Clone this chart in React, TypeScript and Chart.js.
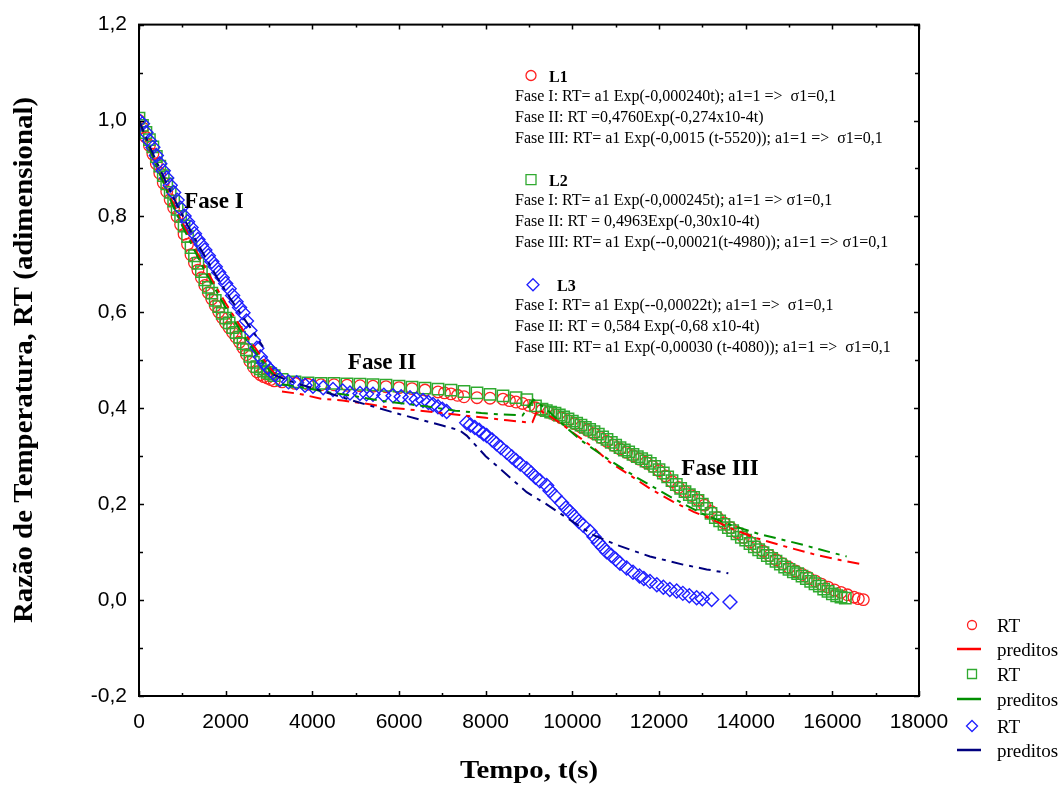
import React, { useEffect, useRef } from "react";
import { Chart, registerables } from "chart.js";
Chart.register(...registerables);

const SERIF = '"Liberation Serif", "Times New Roman", Times, serif';
const SANS = '"Liberation Sans", Arial, Helvetica, sans-serif';

// ---------- axis ticks ----------
const xTicks = [0, 2000, 4000, 6000, 8000, 10000, 12000, 14000, 16000, 18000];
const xTickLabels = ["0", "2000", "4000", "6000", "8000", "10000", "12000", "14000", "16000", "18000"];
const yTicks = [-0.2, 0, 0.2, 0.4, 0.6, 0.8, 1.0, 1.2];
const yTickLabels = ["-0,2", "0,0", "0,2", "0,4", "0,6", "0,8", "1,0", "1,2"];
const xMinorTicks = [0, 1000, 2000, 3000, 4000, 5000, 6000, 7000, 8000, 9000, 10000, 11000, 12000, 13000, 14000, 15000, 16000, 17000, 18000];
const yMinorTicks = [-0.2, -0.1, 0, 0.1, 0.2, 0.3, 0.4, 0.5, 0.6, 0.7, 0.8, 0.9, 1.0, 1.1, 1.2];

// ---------- L1 measured (red circles) ----------
const l1T = [0, 80, 160, 240, 320, 400, 480, 560, 640, 720, 800, 880, 960, 1040, 1120, 1200, 1280, 1360, 1440, 1520, 1600, 1680, 1760, 1840, 1920, 2000, 2080, 2160, 2240, 2320, 2400, 2480, 2560, 2640, 2720, 2800, 2880, 2960, 3040, 3120,
  3300, 3600, 3900, 4200, 4500, 4800, 5100, 5400, 5700, 6000, 6300, 6600, 6900, 7050, 7200, 7350, 7500, 7800, 8100, 8400, 8550, 8700, 8850, 9000, 9150, 9300,
  9450, 9600, 9750, 9900, 10050, 10200, 10350, 10500, 10650, 10800, 10950, 11100, 11250, 11400, 11550, 11700, 11850, 12000, 12150, 12300, 12450, 12600, 12750, 12900,
  13050, 13200, 13350, 13500, 13650, 13800, 13950, 14100, 14250, 14400, 14550, 14700, 14850, 15000, 15150, 15300, 15450, 15600, 15750, 15900, 16050, 16200, 16350, 16500, 16600, 16715];
const l1RT = [1.0, 0.985, 0.965, 0.948, 0.93, 0.91, 0.89, 0.87, 0.852, 0.835, 0.818, 0.80, 0.783, 0.763, 0.742, 0.72, 0.703, 0.688, 0.672, 0.656, 0.641, 0.628, 0.614, 0.601, 0.589, 0.578, 0.568, 0.558, 0.548, 0.538, 0.526, 0.512, 0.498, 0.486, 0.476, 0.47, 0.466, 0.463, 0.46, 0.457,
  0.455, 0.452, 0.450, 0.449, 0.449, 0.448, 0.447, 0.446, 0.445, 0.443, 0.441, 0.438, 0.434, 0.432, 0.430, 0.427, 0.424, 0.422, 0.421, 0.419, 0.416, 0.413, 0.410, 0.406, 0.401, 0.396,
  0.392, 0.386, 0.380, 0.374, 0.368, 0.361, 0.354, 0.347, 0.339, 0.331, 0.323, 0.315, 0.308, 0.301, 0.294, 0.287, 0.279, 0.270, 0.259, 0.247, 0.235, 0.226, 0.218, 0.209,
  0.198, 0.185, 0.172, 0.161, 0.151, 0.141, 0.131, 0.121, 0.111, 0.102, 0.093, 0.084, 0.076, 0.068, 0.061, 0.054, 0.047, 0.040, 0.033, 0.027, 0.021, 0.016, 0.011, 0.006, 0.003, 0.001];

// ---------- L2 measured (green squares) ----------
const l2T = [0, 80, 160, 240, 320, 400, 480, 560, 640, 720, 800, 880, 960, 1040, 1120, 1200, 1280, 1360, 1440, 1520, 1600, 1680, 1760, 1840, 1920, 2000, 2080, 2160, 2240, 2320, 2400, 2480, 2560, 2640, 2720, 2800, 2880, 2960, 3040, 3120,
  3300, 3600, 3900, 4200, 4500, 4800, 5100, 5400, 5700, 6000, 6300, 6600, 6900, 7200, 7500, 7800, 8100, 8400, 8700, 8950, 9150, 9300, 9400,
  9500, 9600, 9700, 9800, 9900, 10000, 10100, 10200, 10300, 10400, 10500, 10600, 10700, 10800, 10900, 11000, 11100, 11200, 11300, 11400, 11500, 11600, 11700, 11800, 11900,
  12000, 12100, 12200, 12300, 12400, 12500, 12600, 12700, 12800, 12900, 13000, 13100, 13200, 13300, 13400, 13500, 13600, 13700, 13800, 13900,
  14000, 14100, 14200, 14300, 14400, 14500, 14600, 14700, 14800, 14900, 15000, 15100, 15200, 15300, 15400, 15500, 15600, 15700, 15800, 15900, 16000, 16100, 16200, 16300];
const l2RT = [1.005, 0.99, 0.975, 0.96, 0.945, 0.925, 0.905, 0.885, 0.868, 0.85, 0.832, 0.815, 0.80, 0.78, 0.758, 0.735, 0.718, 0.702, 0.685, 0.668, 0.652, 0.64, 0.625, 0.612, 0.598, 0.588, 0.578, 0.568, 0.558, 0.548, 0.535, 0.522, 0.508, 0.496, 0.487, 0.482, 0.478, 0.475, 0.472, 0.468,
  0.46, 0.455, 0.453, 0.452, 0.452, 0.451, 0.450, 0.449, 0.448, 0.446, 0.444, 0.442, 0.440, 0.438, 0.435, 0.432, 0.429, 0.426, 0.422, 0.418, 0.405, 0.398, 0.395,
  0.392, 0.390, 0.386, 0.382, 0.378, 0.373, 0.369, 0.365, 0.360, 0.356, 0.351, 0.346, 0.340, 0.335, 0.329, 0.323, 0.318, 0.313, 0.309, 0.304, 0.299, 0.295, 0.290, 0.285, 0.279,
  0.272, 0.265, 0.257, 0.249, 0.241, 0.233, 0.226, 0.220, 0.214, 0.208, 0.200, 0.191, 0.181, 0.172, 0.165, 0.158, 0.151, 0.145, 0.138, 0.131,
  0.125, 0.118, 0.111, 0.105, 0.099, 0.093, 0.087, 0.081, 0.075, 0.069, 0.064, 0.059, 0.055, 0.050, 0.045, 0.039, 0.034, 0.029, 0.023, 0.018, 0.013, 0.009, 0.006, 0.004];

// ---------- L3 measured (blue diamonds) ----------
const l3T = [0, 80, 160, 240, 320, 400, 480, 560, 640, 720, 800, 880, 960, 1040, 1120, 1200, 1280, 1360, 1440, 1520, 1600, 1680, 1760, 1840, 1920, 2000, 2080, 2160, 2240, 2320, 2400, 2480, 2560, 2640, 2720, 2800, 2880, 2960, 3040,
  3140, 3254, 3450, 3638, 3831, 4015, 4250, 4477, 4700, 4869, 5100, 5250, 5400, 5650, 5862, 6050, 6254, 6400, 6554, 6680, 6785, 6900, 7000, 7100,
  7562, 7650, 7750, 7850, 7950, 8023, 8150, 8250, 8350, 8485, 8600, 8700, 8800, 8946, 9050, 9150, 9250, 9408, 9485, 9600, 9750, 9850, 9946, 10050, 10150, 10250,
  10408, 10500, 10600, 10700, 10792, 10900, 11000, 11100, 11254, 11400, 11550, 11650, 11792, 11950, 12100, 12250, 12408, 12550, 12700, 12869, 13000, 13215, 13638];
const l3RT = [1.0, 0.993, 0.975, 0.958, 0.944, 0.927, 0.91, 0.895, 0.88, 0.865, 0.85, 0.834, 0.817, 0.801, 0.789, 0.777, 0.764, 0.752, 0.741, 0.73, 0.718, 0.706, 0.695, 0.683, 0.672, 0.660, 0.649, 0.635, 0.622, 0.610, 0.599, 0.582, 0.562, 0.542, 0.525, 0.507, 0.495, 0.486, 0.479,
  0.47, 0.46, 0.455, 0.453, 0.448, 0.446, 0.443, 0.439, 0.436, 0.432, 0.431, 0.430, 0.429, 0.427, 0.426, 0.424, 0.422, 0.419, 0.416, 0.412, 0.408, 0.403, 0.398, 0.393,
  0.370, 0.365, 0.360, 0.354, 0.347, 0.343, 0.334, 0.326, 0.318, 0.308, 0.299, 0.291, 0.284, 0.274, 0.265, 0.256, 0.249, 0.239, 0.228, 0.217, 0.203, 0.192, 0.184, 0.174, 0.164, 0.156,
  0.143, 0.132, 0.120, 0.110, 0.101, 0.093, 0.085, 0.077, 0.067, 0.058, 0.050, 0.045, 0.039, 0.032, 0.027, 0.022, 0.019, 0.014, 0.009, 0.005, 0.003, 0.001, -0.004];

// ---------- predicted curves ----------
const p1T = [0, 250, 500, 750, 1000, 1250, 1500, 1750, 2000, 2250, 2500, 2750, 3000, 3150, 3200,
  3300, 3700, 4200, 4700, 5200, 5800, 6400, 6900, 7400, 8000, 8500, 9000, 9080, 9200, 9400, 9716, 10000, 10500, 10869, 11300, 11800, 12331, 12800, 13177, 13700, 14254, 14900, 15638, 16200, 16715];
const p1RT = [1.0, 0.94, 0.885, 0.835, 0.787, 0.74, 0.698, 0.657, 0.619, 0.583, 0.549, 0.517, 0.487, 0.47, null,
  0.435, 0.43, 0.42, 0.416, 0.41, 0.401, 0.396, 0.391, 0.386, 0.38, 0.375, 0.37, 0.371, 0.398, 0.388, 0.37, 0.35, 0.317, 0.287, 0.262, 0.232, 0.205, 0.184, 0.170, 0.148, 0.129, 0.112, 0.094, 0.083, 0.074];

const p2T = [0, 250, 500, 750, 1000, 1250, 1500, 1750, 2000, 2250, 2500, 2750, 3000, 3100, 3200,
  3300, 3800, 4400, 5000, 5550, 6100, 6700, 7300, 7900, 8400, 8850, 9100, 9300, 9485, 9785, 10200, 10869, 11500, 12331, 13000, 13638, 14300, 14800, 15331, 15900, 16331];
const p2RT = [1.0, 0.94, 0.885, 0.83, 0.78, 0.735, 0.69, 0.65, 0.61, 0.575, 0.54, 0.51, 0.48, 0.47, null,
  0.45, 0.443, 0.433, 0.425, 0.416, 0.41, 0.403, 0.395, 0.39, 0.387, 0.385, 0.418, 0.405, 0.391, 0.366, 0.333, 0.291, 0.255, 0.212, 0.180, 0.157, 0.138, 0.127, 0.115, 0.101, 0.091];

const p3T = [0, 300, 600, 900, 1200, 1500, 1800, 2100, 2400, 2650, 2862, 2950,
  3100, 3500, 4000, 4500, 5000, 5500, 6000, 6500, 7000, 7400, 7562, 8000, 8331, 8946, 9400, 9716, 10100, 10477, 11023, 11400, 11792, 12200, 12554, 13100, 13600];
const p3RT = [1.0, 0.935, 0.876, 0.82, 0.768, 0.72, 0.673, 0.63, 0.59, 0.558, 0.528, null,
  0.470, 0.456, 0.442, 0.428, 0.414, 0.401, 0.388, 0.376, 0.364, 0.354, 0.343, 0.30, 0.274, 0.225, 0.20, 0.181, 0.158, 0.136, 0.115, 0.103, 0.091, 0.082, 0.074, 0.064, 0.056];

// ---------- text ----------
const legendLabels = ["RT", "preditos", "RT", "preditos", "RT", "preditos"];
const seriesNames = ["L1", "L2", "L3"];
const eqL1 = ["Fase I: RT= a1 Exp(-0,000240t); a1=1 =>  \u03c31=0,1", "Fase II: RT =0,4760Exp(-0,274x10-4t)", "Fase III: RT= a1 Exp(-0,0015 (t-5520)); a1=1 =>  \u03c31=0,1"];
const eqL2 = ["Fase I: RT= a1 Exp(-0,000245t); a1=1 => \u03c31=0,1", "Fase II: RT = 0,4963Exp(-0,30x10-4t)", "Fase III: RT= a1 Exp(--0,00021(t-4980)); a1=1 => \u03c31=0,1"];
const eqL3 = ["Fase I: RT= a1 Exp(--0,00022t); a1=1 =>  \u03c31=0,1", "Fase II: RT = 0,584 Exp(-0,68 x10-4t)", "Fase III: RT= a1 Exp(-0,00030 (t-4080)); a1=1 =>  \u03c31=0,1"];
const phaseLabels = ["Fase I", "Fase II", "Fase III"];
const phaseT = [1731, 5608, 13408];
const phaseRT = [0.829, 0.494, 0.273];
const xTitle = "Tempo, t(s)";
const yTitle = "Raz\u00e3o de Temperatura, RT (adimensional)";

const RED = "#ff2020";
const GREEN_M = "#30aa30";
const BLUE_M = "#1f1fff";
const RED_L = "#ff0000";
const GREEN_L = "#008f00";
const NAVY_L = "#00007f";

function pts(t: number[], v: (number | null)[]) {
  return t.map((x, i) => ({ x, y: v[i] }));
}

function drawSym(ctx: CanvasRenderingContext2D, kind: string, x: number, y: number, s: number, color: string) {
  ctx.save();
  ctx.strokeStyle = color;
  ctx.lineWidth = 1.3;
  ctx.beginPath();
  if (kind === "circle") ctx.arc(x, y, s, 0, Math.PI * 2);
  else if (kind === "square") ctx.rect(x - s, y - s, 2 * s, 2 * s);
  else {
    ctx.moveTo(x, y - s);
    ctx.lineTo(x + s, y);
    ctx.lineTo(x, y + s);
    ctx.lineTo(x - s, y);
    ctx.closePath();
  }
  ctx.stroke();
  ctx.restore();
}

function stretchText(ctx: CanvasRenderingContext2D, text: string, cx: number, cy: number, font: string, targetW: number, rot: number) {
  ctx.save();
  ctx.font = font;
  const w = ctx.measureText(text).width;
  ctx.translate(cx, cy);
  ctx.rotate(rot);
  ctx.scale(targetW / w, 1);
  ctx.textAlign = "center";
  ctx.textBaseline = "middle";
  ctx.fillStyle = "#000";
  ctx.fillText(text, 0, 0);
  ctx.restore();
}

export default function App() {
  const ref = useRef<HTMLCanvasElement>(null);
  useEffect(() => {
    const overlay = {
      id: "overlay",
      afterDraw(chart: any) {
        const ctx: CanvasRenderingContext2D = chart.ctx;
        const { left, right, top, bottom } = chart.chartArea;
        const xs = chart.scales.x;
        const ys = chart.scales.y;
        ctx.save();
        // frame
        ctx.strokeStyle = "#000";
        ctx.lineWidth = 2;
        ctx.strokeRect(left, top, right - left, bottom - top);
        // inward ticks
        ctx.lineWidth = 1.5;
        ctx.beginPath();
        yMinorTicks.forEach((v, i) => {
          const p = Math.round(ys.getPixelForValue(v)) + 0.5;
          const len = i % 2 === 0 ? 5 : 4;
          ctx.moveTo(left, p); ctx.lineTo(left + len, p);
          ctx.moveTo(right, p); ctx.lineTo(right - len, p);
        });
        xMinorTicks.forEach((v, i) => {
          const p = Math.round(xs.getPixelForValue(v)) + 0.5;
          const len = i % 2 === 0 ? 5 : 3;
          ctx.moveTo(p, bottom); ctx.lineTo(p, bottom - len);
          ctx.moveTo(p, top); ctx.lineTo(p, top + len);
        });
        ctx.stroke();

        // axis titles
        stretchText(ctx, xTitle, (left + right) / 2, 771, `bold 26px ${SERIF}`, 138, 0);
        stretchText(ctx, yTitle, 25, 360, `bold 28px ${SERIF}`, 526, -Math.PI / 2);

        // phase labels
        ctx.fillStyle = "#000";
        ctx.font = `bold 23px ${SERIF}`;
        ctx.textAlign = "center";
        ctx.textBaseline = "middle";
        phaseLabels.forEach((s, i) => {
          ctx.fillText(s, xs.getPixelForValue(phaseT[i]), ys.getPixelForValue(phaseRT[i]));
        });

        // annotation block
        const blockX = xs.getPixelForValue(8677);
        const headers = [1.0897, 0.8726, 0.6534];
        const eqs = [eqL1, eqL2, eqL3];
        const kinds = ["circle", "square", "diamond"];
        const kcol = [RED, GREEN_M, BLUE_M];
        const ksize = [5, 5, 6];
        const symDx = [16, 16, 18];
        const nameDx = [34, 34, 42];
        headers.forEach((h, i) => {
          const hy = ys.getPixelForValue(h);
          drawSym(ctx, kinds[i], blockX + symDx[i], hy - 2, ksize[i], kcol[i]);
          ctx.font = `bold 16px ${SERIF}`;
          ctx.textAlign = "left";
          ctx.textBaseline = "middle";
          ctx.fillStyle = "#000";
          ctx.fillText(seriesNames[i], blockX + nameDx[i], hy);
          ctx.font = `16px ${SERIF}`;
          const offs = [19, 40, 61];
          eqs[i].forEach((line, j) => ctx.fillText(line, blockX, hy + offs[j]));
        });

        // legend
        const lx = 972;
        const rowsY = [625, 649, 674, 699, 726, 750];
        const lcol = [RED, RED_L, GREEN_M, GREEN_L, BLUE_M, NAVY_L];
        legendLabels.forEach((lab, i) => {
          const y = rowsY[i];
          if (i % 2 === 0) {
            const k = kinds[i / 2];
            drawSym(ctx, k, lx, y, k === "diamond" ? 5.5 : 4.5, lcol[i]);
          } else {
            ctx.save();
            ctx.strokeStyle = lcol[i];
            ctx.lineWidth = 2.5;
            ctx.beginPath();
            ctx.moveTo(957, y); ctx.lineTo(981, y);
            ctx.stroke();
            ctx.restore();
          }
          ctx.font = `19px ${SERIF}`;
          ctx.textAlign = "left";
          ctx.textBaseline = "middle";
          ctx.fillStyle = "#000";
          ctx.fillText(lab, 997, y + 2);
        });
        ctx.restore();
      },
    };

    const dash = [12, 6, 4, 6];
    const chart = new Chart(ref.current as HTMLCanvasElement, {
      type: "line",
      data: {
        datasets: [
          { label: "preditos L3", data: pts(p3T, p3RT), borderColor: NAVY_L, borderWidth: 2, borderDash: dash, pointRadius: 0, spanGaps: false, order: 0 } as any,
          { label: "preditos L2", data: pts(p2T, p2RT), borderColor: GREEN_L, borderWidth: 2, borderDash: dash, pointRadius: 0, spanGaps: false, order: 1 } as any,
          { label: "preditos L1", data: pts(p1T, p1RT), borderColor: RED_L, borderWidth: 2, borderDash: dash, pointRadius: 0, spanGaps: false, order: 2 } as any,
          { label: "RT L3", data: pts(l3T, l3RT), showLine: false, pointStyle: "rectRot", pointRadius: 7, pointBorderWidth: 1.4, pointBorderColor: BLUE_M, pointBackgroundColor: "rgba(0,0,0,0)", order: 3 } as any,
          { label: "RT L2", data: pts(l2T, l2RT), showLine: false, pointStyle: "rect", pointRadius: 8, pointBorderWidth: 1.5, pointBorderColor: GREEN_M, pointBackgroundColor: "rgba(0,0,0,0)", order: 4 } as any,
          { label: "RT L1", data: pts(l1T, l1RT), showLine: false, pointStyle: "circle", pointRadius: 5.8, pointBorderWidth: 1.3, pointBorderColor: RED, pointBackgroundColor: "rgba(0,0,0,0)", order: 5 } as any,
        ],
      },
      options: {
        responsive: false,
        animation: false,
        devicePixelRatio: 1,
        layout: { padding: { left: 0, top: 19, right: 143, bottom: 0 } },
        plugins: { legend: { display: false }, tooltip: { enabled: false } },
        events: [],
        scales: {
          x: {
            type: "linear",
            min: 0,
            max: 18000,
            grid: { display: false, drawTicks: false },
            border: { display: false },
            ticks: {
              font: { family: SANS, size: 21 },
              color: "#000",
              padding: 14,
              autoSkip: false,
              maxRotation: 0,
              callback: (_v: any, i: number) => xTickLabels[i],
            },
            afterBuildTicks: (s: any) => { s.ticks = xTicks.map((v) => ({ value: v })); },
            afterFit: (s: any) => { s.height = 91; },
          },
          y: {
            type: "linear",
            min: -0.2,
            max: 1.2,
            grid: { display: false, drawTicks: false },
            border: { display: false },
            ticks: {
              font: { family: SANS, size: 21 },
              color: "#000",
              padding: 12,
              autoSkip: false,
              callback: (_v: any, i: number) => yTickLabels[i],
            },
            afterBuildTicks: (s: any) => { s.ticks = yTicks.map((v) => ({ value: v })); },
            afterFit: (s: any) => { s.width = 139; },
          },
        },
      } as any,
      plugins: [overlay],
    });
    return () => chart.destroy();
  }, []);

  return (
    <div style={{ position: "absolute", left: 0, top: 0, width: 1062, height: 787, background: "#fff" }}>
      <canvas ref={ref} width={1062} height={787} style={{ display: "block" }} />
    </div>
  );
}
